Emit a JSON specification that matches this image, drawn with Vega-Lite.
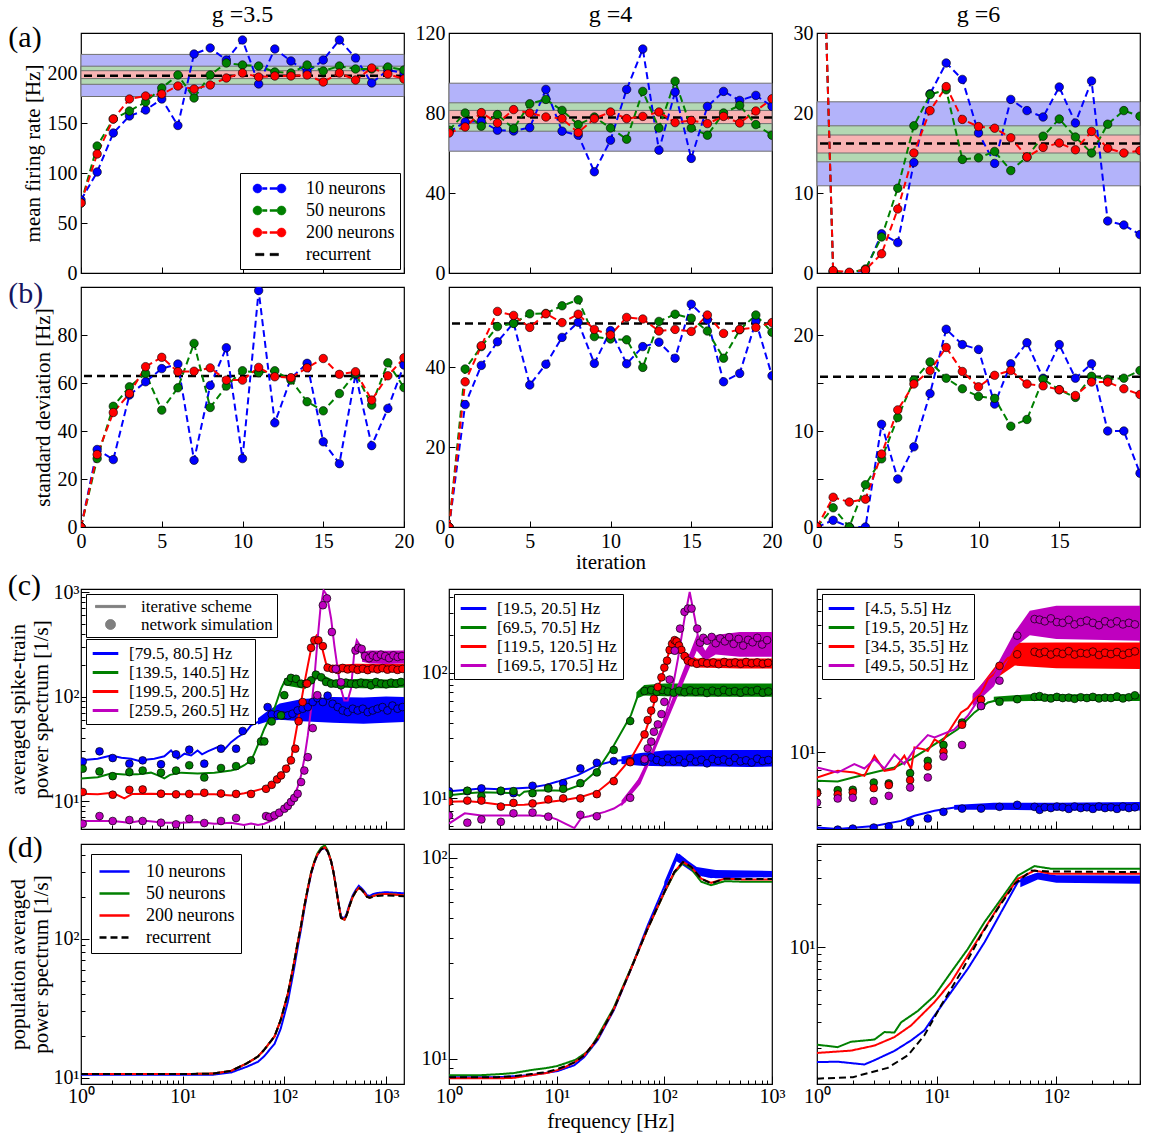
{
"$schema":"https://vega.github.io/schema/vega-lite/v6.json",
"background":"white",
"padding":{"left":6,"top":2,"right":6,"bottom":4},
"config":{
 "font":"Liberation Serif",
 "view":{"stroke":"black","strokeWidth":1.2},
 "axis":{"grid":false,"domain":false,"labelFont":"Liberation Serif","labelFontSize":20,"labelColor":"black","titleFont":"Liberation Serif","titleFontSize":21,"titleFontWeight":"normal","titleColor":"black","tickColor":"black","tickSize":-6,"labelPadding":10,"labelFlush":false,"labelOverlap":false},
 "legend":{"labelFont":"Liberation Serif","labelColor":"black","titleFont":"Liberation Serif","strokeColor":"black","fillColor":"white","cornerRadius":0},
 "title":{"font":"Liberation Serif","fontSize":24,"fontWeight":"normal","color":"black","offset":-4}
},
"datasets":{
"BA1":[{"b":"10","lo":176.5,"hi":218.6},{"b":"50","lo":188.7,"hi":206.8},{"b":"200","lo":194.4,"hi":202.3}],
"BA2":[{"b":"10","lo":60.9,"hi":94.9},{"b":"50","lo":70.9,"hi":85.1},{"b":"200","lo":74.7,"hi":81.3}],
"BA3":[{"b":"10","lo":10.9,"hi":21.4},{"b":"50","lo":13.9,"hi":18.4},{"b":"200","lo":15,"hi":17.25}],
"A1":[
{"s":"10","i":0,"v":73},{"s":"10","i":1,"v":101},{"s":"10","i":2,"v":140},{"s":"10","i":3,"v":157},{"s":"10","i":4,"v":163},{"s":"10","i":5,"v":174},{"s":"10","i":6,"v":147.5},{"s":"10","i":7,"v":219},{"s":"10","i":8,"v":225},{"s":"10","i":9,"v":213},{"s":"10","i":10,"v":233},{"s":"10","i":11,"v":189},{"s":"10","i":12,"v":224},{"s":"10","i":13,"v":212},{"s":"10","i":14,"v":201},{"s":"10","i":15,"v":213},{"s":"10","i":16,"v":233},{"s":"10","i":17,"v":215},{"s":"10","i":18,"v":190},{"s":"10","i":19,"v":203},{"s":"10","i":20,"v":200},
{"s":"50","i":0,"v":70},{"s":"50","i":1,"v":127},{"s":"50","i":2,"v":154},{"s":"50","i":3,"v":162},{"s":"50","i":4,"v":171},{"s":"50","i":5,"v":185},{"s":"50","i":6,"v":198},{"s":"50","i":7,"v":175},{"s":"50","i":8,"v":198},{"s":"50","i":9,"v":210},{"s":"50","i":10,"v":208},{"s":"50","i":11,"v":207},{"s":"50","i":12,"v":201},{"s":"50","i":13,"v":200},{"s":"50","i":14,"v":208},{"s":"50","i":15,"v":202},{"s":"50","i":16,"v":207},{"s":"50","i":17,"v":204},{"s":"50","i":18,"v":204},{"s":"50","i":19,"v":206},{"s":"50","i":20,"v":203},
{"s":"200","i":0,"v":70},{"s":"200","i":1,"v":119},{"s":"200","i":2,"v":154},{"s":"200","i":3,"v":174},{"s":"200","i":4,"v":177},{"s":"200","i":5,"v":179},{"s":"200","i":6,"v":187},{"s":"200","i":7,"v":184},{"s":"200","i":8,"v":188},{"s":"200","i":9,"v":195},{"s":"200","i":10,"v":200},{"s":"200","i":11,"v":196},{"s":"200","i":12,"v":197},{"s":"200","i":13,"v":197},{"s":"200","i":14,"v":198},{"s":"200","i":15,"v":191},{"s":"200","i":16,"v":200},{"s":"200","i":17,"v":193},{"s":"200","i":18,"v":205},{"s":"200","i":19,"v":199},{"s":"200","i":20,"v":194}],
"A2":[
{"s":"10","i":0,"v":70.5},{"s":"10","i":1,"v":75.5},{"s":"10","i":2,"v":75.9},{"s":"10","i":3,"v":71.4},{"s":"10","i":4,"v":71},{"s":"10","i":5,"v":72.7},{"s":"10","i":6,"v":91.8},{"s":"10","i":7,"v":70.9},{"s":"10","i":8,"v":68.9},{"s":"10","i":9,"v":50.6},{"s":"10","i":10,"v":66.4},{"s":"10","i":11,"v":91.8},{"s":"10","i":12,"v":112},{"s":"10","i":13,"v":61.4},{"s":"10","i":14,"v":90.5},{"s":"10","i":15,"v":57.3},{"s":"10","i":16,"v":83.3},{"s":"10","i":17,"v":90.8},{"s":"10","i":18,"v":86.3},{"s":"10","i":19,"v":88.8},{"s":"10","i":20,"v":83.3},
{"s":"50","i":0,"v":71.4},{"s":"50","i":1,"v":80},{"s":"50","i":2,"v":73.4},{"s":"50","i":3,"v":79.2},{"s":"50","i":4,"v":72.2},{"s":"50","i":5,"v":84.6},{"s":"50","i":6,"v":86.8},{"s":"50","i":7,"v":81.3},{"s":"50","i":8,"v":74.2},{"s":"50","i":9,"v":78},{"s":"50","i":10,"v":72.5},{"s":"50","i":11,"v":66.9},{"s":"50","i":12,"v":90.8},{"s":"50","i":13,"v":72.5},{"s":"50","i":14,"v":95.9},{"s":"50","i":15,"v":72.5},{"s":"50","i":16,"v":68.9},{"s":"50","i":17,"v":80},{"s":"50","i":18,"v":83.8},{"s":"50","i":19,"v":74.2},{"s":"50","i":20,"v":68.9},
{"s":"200","i":0,"v":70},{"s":"200","i":1,"v":73},{"s":"200","i":2,"v":80.2},{"s":"200","i":3,"v":75},{"s":"200","i":4,"v":81.7},{"s":"200","i":5,"v":80},{"s":"200","i":6,"v":78},{"s":"200","i":7,"v":77.2},{"s":"200","i":8,"v":70.2},{"s":"200","i":9,"v":77.2},{"s":"200","i":10,"v":80.5},{"s":"200","i":11,"v":77.2},{"s":"200","i":12,"v":78.3},{"s":"200","i":13,"v":80.5},{"s":"200","i":14,"v":75.2},{"s":"200","i":15,"v":76.3},{"s":"200","i":16,"v":74.7},{"s":"200","i":17,"v":78.3},{"s":"200","i":18,"v":75},{"s":"200","i":19,"v":81},{"s":"200","i":20,"v":87.1}],
"A3":[
{"s":"10","i":0,"v":70},{"s":"10","i":1,"v":0.2},{"s":"10","i":2,"v":0},{"s":"10","i":3,"v":0.3},{"s":"10","i":4,"v":4.9},{"s":"10","i":5,"v":3.8},{"s":"10","i":6,"v":13.8},{"s":"10","i":7,"v":22.4},{"s":"10","i":8,"v":26.25},{"s":"10","i":9,"v":24.2},{"s":"10","i":10,"v":17.5},{"s":"10","i":11,"v":13.7},{"s":"10","i":12,"v":21.7},{"s":"10","i":13,"v":20.3},{"s":"10","i":14,"v":19.5},{"s":"10","i":15,"v":23.25},{"s":"10","i":16,"v":18.75},{"s":"10","i":17,"v":24},{"s":"10","i":18,"v":6.5},{"s":"10","i":19,"v":6},{"s":"10","i":20,"v":4.8},
{"s":"50","i":0,"v":70},{"s":"50","i":1,"v":0.1},{"s":"50","i":2,"v":0},{"s":"50","i":3,"v":0.5},{"s":"50","i":4,"v":4.5},{"s":"50","i":5,"v":10.6},{"s":"50","i":6,"v":18.4},{"s":"50","i":7,"v":22.3},{"s":"50","i":8,"v":22.9},{"s":"50","i":9,"v":14.2},{"s":"50","i":10,"v":14.4},{"s":"50","i":11,"v":15.2},{"s":"50","i":12,"v":12.8},{"s":"50","i":13,"v":14.5},{"s":"50","i":14,"v":17.1},{"s":"50","i":15,"v":19.25},{"s":"50","i":16,"v":17},{"s":"50","i":17,"v":15},{"s":"50","i":18,"v":18.6},{"s":"50","i":19,"v":20.3},{"s":"50","i":20,"v":19.6},
{"s":"200","i":0,"v":70},{"s":"200","i":1,"v":0.3},{"s":"200","i":2,"v":0.1},{"s":"200","i":3,"v":0.4},{"s":"200","i":4,"v":2.4},{"s":"200","i":5,"v":8},{"s":"200","i":6,"v":15},{"s":"200","i":7,"v":20.3},{"s":"200","i":8,"v":23.3},{"s":"200","i":9,"v":19.2},{"s":"200","i":10,"v":18.3},{"s":"200","i":11,"v":18.1},{"s":"200","i":12,"v":16.9},{"s":"200","i":13,"v":14.5},{"s":"200","i":14,"v":15.7},{"s":"200","i":15,"v":16.25},{"s":"200","i":16,"v":15.4},{"s":"200","i":17,"v":17.7},{"s":"200","i":18,"v":15.6},{"s":"200","i":19,"v":15},{"s":"200","i":20,"v":15.3}],
"B1":[
{"s":"10","i":0,"v":0},{"s":"10","i":1,"v":32.3},{"s":"10","i":2,"v":28.1},{"s":"10","i":3,"v":55},{"s":"10","i":4,"v":60.5},{"s":"10","i":5,"v":66},{"s":"10","i":6,"v":67.9},{"s":"10","i":7,"v":27.8},{"s":"10","i":8,"v":59},{"s":"10","i":9,"v":74.7},{"s":"10","i":10,"v":28.5},{"s":"10","i":11,"v":98.5},{"s":"10","i":12,"v":43.4},{"s":"10","i":13,"v":62},{"s":"10","i":14,"v":68.2},{"s":"10","i":15,"v":35.5},{"s":"10","i":16,"v":26.4},{"s":"10","i":17,"v":63.6},{"s":"10","i":18,"v":33.9},{"s":"10","i":19,"v":49.4},{"s":"10","i":20,"v":67.5},
{"s":"50","i":0,"v":0},{"s":"50","i":1,"v":28.5},{"s":"50","i":2,"v":50.3},{"s":"50","i":3,"v":58.4},{"s":"50","i":4,"v":64},{"s":"50","i":5,"v":48.7},{"s":"50","i":6,"v":58},{"s":"50","i":7,"v":76.5},{"s":"50","i":8,"v":49.8},{"s":"50","i":9,"v":58.7},{"s":"50","i":10,"v":65.1},{"s":"50","i":11,"v":64.3},{"s":"50","i":12,"v":65.1},{"s":"50","i":13,"v":61.2},{"s":"50","i":14,"v":52.2},{"s":"50","i":15,"v":48.4},{"s":"50","i":16,"v":55.6},{"s":"50","i":17,"v":64},{"s":"50","i":18,"v":50.8},{"s":"50","i":19,"v":68.4},{"s":"50","i":20,"v":58.1},
{"s":"200","i":0,"v":0},{"s":"200","i":1,"v":30.2},{"s":"200","i":2,"v":47.7},{"s":"200","i":3,"v":55.6},{"s":"200","i":4,"v":66.8},{"s":"200","i":5,"v":70.7},{"s":"200","i":6,"v":64.7},{"s":"200","i":7,"v":64.9},{"s":"200","i":8,"v":66.3},{"s":"200","i":9,"v":61.2},{"s":"200","i":10,"v":61.2},{"s":"200","i":11,"v":66.5},{"s":"200","i":12,"v":62.6},{"s":"200","i":13,"v":62.2},{"s":"200","i":14,"v":66.3},{"s":"200","i":15,"v":70.2},{"s":"200","i":16,"v":63.6},{"s":"200","i":17,"v":64.7},{"s":"200","i":18,"v":52.9},{"s":"200","i":19,"v":63},{"s":"200","i":20,"v":70.5}],
"B2":[
{"s":"10","i":0,"v":0},{"s":"10","i":1,"v":30.6},{"s":"10","i":2,"v":40.4},{"s":"10","i":3,"v":46.3},{"s":"10","i":4,"v":51},{"s":"10","i":5,"v":35.5},{"s":"10","i":6,"v":40.7},{"s":"10","i":7,"v":47.4},{"s":"10","i":8,"v":51.2},{"s":"10","i":9,"v":40.9},{"s":"10","i":10,"v":49.1},{"s":"10","i":11,"v":40.8},{"s":"10","i":12,"v":45.1},{"s":"10","i":13,"v":46.2},{"s":"10","i":14,"v":42.2},{"s":"10","i":15,"v":55.7},{"s":"10","i":16,"v":51.8},{"s":"10","i":17,"v":36.3},{"s":"10","i":18,"v":38.4},{"s":"10","i":19,"v":51.4},{"s":"10","i":20,"v":37.8},
{"s":"50","i":0,"v":0},{"s":"50","i":1,"v":39.5},{"s":"50","i":2,"v":45.1},{"s":"50","i":3,"v":50.1},{"s":"50","i":4,"v":50.9},{"s":"50","i":5,"v":53.3},{"s":"50","i":6,"v":53.4},{"s":"50","i":7,"v":55.3},{"s":"50","i":8,"v":56.8},{"s":"50","i":9,"v":47.6},{"s":"50","i":10,"v":47},{"s":"50","i":11,"v":46.8},{"s":"50","i":12,"v":39.9},{"s":"50","i":13,"v":51.4},{"s":"50","i":14,"v":53.2},{"s":"50","i":15,"v":52.2},{"s":"50","i":16,"v":49},{"s":"50","i":17,"v":42.2},{"s":"50","i":18,"v":49.3},{"s":"50","i":19,"v":53},{"s":"50","i":20,"v":48.7},
{"s":"200","i":0,"v":0},{"s":"200","i":1,"v":36.3},{"s":"200","i":2,"v":45.3},{"s":"200","i":3,"v":53.9},{"s":"200","i":4,"v":52.9},{"s":"200","i":5,"v":49.9},{"s":"200","i":6,"v":53.3},{"s":"200","i":7,"v":51.1},{"s":"200","i":8,"v":53.2},{"s":"200","i":9,"v":49.4},{"s":"200","i":10,"v":48},{"s":"200","i":11,"v":52.4},{"s":"200","i":12,"v":52},{"s":"200","i":13,"v":49},{"s":"200","i":14,"v":49.4},{"s":"200","i":15,"v":48.9},{"s":"200","i":16,"v":53},{"s":"200","i":17,"v":48.4},{"s":"200","i":18,"v":49.4},{"s":"200","i":19,"v":49.9},{"s":"200","i":20,"v":51.1}],
"B3":[
{"s":"10","i":0,"v":0},{"s":"10","i":1,"v":0.7},{"s":"10","i":2,"v":0},{"s":"10","i":3,"v":0},{"s":"10","i":4,"v":10.7},{"s":"10","i":5,"v":5},{"s":"10","i":6,"v":8.35},{"s":"10","i":7,"v":13.9},{"s":"10","i":8,"v":20.6},{"s":"10","i":9,"v":19},{"s":"10","i":10,"v":18.5},{"s":"10","i":11,"v":12.8},{"s":"10","i":12,"v":17},{"s":"10","i":13,"v":19.2},{"s":"10","i":14,"v":15.5},{"s":"10","i":15,"v":19},{"s":"10","i":16,"v":15.5},{"s":"10","i":17,"v":17},{"s":"10","i":18,"v":10},{"s":"10","i":19,"v":10},{"s":"10","i":20,"v":5.6},
{"s":"50","i":0,"v":0},{"s":"50","i":1,"v":2},{"s":"50","i":2,"v":0},{"s":"50","i":3,"v":4.4},{"s":"50","i":4,"v":7.1},{"s":"50","i":5,"v":11.4},{"s":"50","i":6,"v":15.3},{"s":"50","i":7,"v":17.2},{"s":"50","i":8,"v":15.5},{"s":"50","i":9,"v":14.4},{"s":"50","i":10,"v":13.6},{"s":"50","i":11,"v":13.4},{"s":"50","i":12,"v":10.5},{"s":"50","i":13,"v":11.2},{"s":"50","i":14,"v":15.4},{"s":"50","i":15,"v":14.3},{"s":"50","i":16,"v":13.5},{"s":"50","i":17,"v":15.7},{"s":"50","i":18,"v":15.4},{"s":"50","i":19,"v":15.5},{"s":"50","i":20,"v":16.3},
{"s":"200","i":0,"v":0},{"s":"200","i":1,"v":3.1},{"s":"200","i":2,"v":2.6},{"s":"200","i":3,"v":2.9},{"s":"200","i":4,"v":7.6},{"s":"200","i":5,"v":12.2},{"s":"200","i":6,"v":14.9},{"s":"200","i":7,"v":16.3},{"s":"200","i":8,"v":18.7},{"s":"200","i":9,"v":16.2},{"s":"200","i":10,"v":14.6},{"s":"200","i":11,"v":15.8},{"s":"200","i":12,"v":16.3},{"s":"200","i":13,"v":14.9},{"s":"200","i":14,"v":14.7},{"s":"200","i":15,"v":14.3},{"s":"200","i":16,"v":13.7},{"s":"200","i":17,"v":15.1},{"s":"200","i":18,"v":15.1},{"s":"200","i":19,"v":14.4},{"s":"200","i":20,"v":13.8}],
"C1L":[
{"s":"b","f":1,"p":24.5},{"s":"b","f":1.46,"p":25.4},{"s":"b","f":1.97,"p":27.3},{"s":"b","f":2.5,"p":26},{"s":"b","f":3.1,"p":25.4},{"s":"b","f":3.89,"p":23.9},{"s":"b","f":4.5,"p":25},{"s":"b","f":5.26,"p":25.4},{"s":"b","f":6.6,"p":26.8},{"s":"b","f":7.68,"p":30.5},{"s":"b","f":8.94,"p":25.4},{"s":"b","f":10.4,"p":28.4},{"s":"b","f":12.1,"p":27.3},{"s":"b","f":14,"p":30.5},{"s":"b","f":15.5,"p":28},{"s":"b","f":17.6,"p":29.9},{"s":"b","f":22.1,"p":32.9},{"s":"b","f":26,"p":31.5},{"s":"b","f":29.9,"p":36.6},{"s":"b","f":34.8,"p":41},{"s":"b","f":41.9,"p":45.8},{"s":"b","f":47,"p":53},{"s":"b","f":54.7,"p":57},{"s":"b","f":63.5,"p":63.7},{"s":"b","f":73.8,"p":66},{"s":"b","f":86,"p":71},{"s":"b","f":99.8,"p":73.6},{"s":"b","f":150,"p":75},{"s":"b","f":250,"p":76},{"s":"b","f":500,"p":75},{"s":"b","f":1000,"p":76},{"s":"b","f":1500,"p":76},
{"s":"g","f":1,"p":16.4},{"s":"g","f":1.46,"p":16.9},{"s":"g","f":1.97,"p":18.3},{"s":"g","f":2.67,"p":17.9},{"s":"g","f":3.61,"p":18},{"s":"g","f":4.88,"p":18.7},{"s":"g","f":5.8,"p":17.5},{"s":"g","f":6.6,"p":16.5},{"s":"g","f":7.5,"p":17.8},{"s":"g","f":9.65,"p":18.7},{"s":"g","f":14,"p":18.3},{"s":"g","f":20.5,"p":18.7},{"s":"g","f":29.9,"p":19.6},{"s":"g","f":34.8,"p":20.4},{"s":"g","f":40.4,"p":22},{"s":"g","f":47,"p":24.5},{"s":"g","f":50.6,"p":28.4},{"s":"g","f":54.7,"p":34.1},{"s":"g","f":58.9,"p":41},{"s":"g","f":63.5,"p":49.2},{"s":"g","f":68.4,"p":57},{"s":"g","f":73.8,"p":66},{"s":"g","f":79.5,"p":76.5},{"s":"g","f":86,"p":95.3},{"s":"g","f":92.7,"p":119},{"s":"g","f":99.8,"p":138},{"s":"g","f":108,"p":148},{"s":"g","f":116,"p":153},{"s":"g","f":125,"p":143},{"s":"g","f":135,"p":133},{"s":"g","f":157,"p":128},{"s":"g","f":183,"p":143},{"s":"g","f":211,"p":159},{"s":"g","f":239,"p":153},{"s":"g","f":266,"p":138},{"s":"g","f":310,"p":133},{"s":"g","f":600,"p":133},{"s":"g","f":1500,"p":133},
{"s":"r","f":1,"p":11.75},{"s":"r","f":1.46,"p":11.6},{"s":"r","f":2.05,"p":12},{"s":"r","f":2.67,"p":10.6},{"s":"r","f":3.2,"p":11.7},{"s":"r","f":4.88,"p":11.75},{"s":"r","f":6.6,"p":11.7},{"s":"r","f":9.65,"p":11.6},{"s":"r","f":14,"p":11.6},{"s":"r","f":20.5,"p":11.6},{"s":"r","f":29.9,"p":11.3},{"s":"r","f":40.4,"p":11.9},{"s":"r","f":50.6,"p":12.5},{"s":"r","f":58.9,"p":13},{"s":"r","f":68.4,"p":13.6},{"s":"r","f":79.5,"p":15.2},{"s":"r","f":84.7,"p":16.1},{"s":"r","f":92.7,"p":17.6},{"s":"r","f":104,"p":20.4},{"s":"r","f":116,"p":24.5},{"s":"r","f":125,"p":36.7},{"s":"r","f":135,"p":56},{"s":"r","f":146,"p":88.6},{"s":"r","f":157,"p":133},{"s":"r","f":170,"p":199},{"s":"r","f":183,"p":286},{"s":"r","f":197,"p":357},{"s":"r","f":208,"p":385},{"s":"r","f":222,"p":357},{"s":"r","f":236,"p":286},{"s":"r","f":257,"p":206},{"s":"r","f":288,"p":184},{"s":"r","f":500,"p":184},{"s":"r","f":1500,"p":184},
{"s":"m","f":1,"p":6.44},{"s":"m","f":2.05,"p":6.44},{"s":"m","f":2.99,"p":6.2},{"s":"m","f":4.04,"p":6.5},{"s":"m","f":6.6,"p":6.2},{"s":"m","f":9.65,"p":6.2},{"s":"m","f":14,"p":6.3},{"s":"m","f":20.5,"p":6.07},{"s":"m","f":29.9,"p":6.2},{"s":"m","f":40,"p":5.9},{"s":"m","f":47,"p":6.1},{"s":"m","f":55,"p":5.9},{"s":"m","f":63.5,"p":6.07},{"s":"m","f":80,"p":6.68},{"s":"m","f":92.7,"p":7.56},{"s":"m","f":108,"p":8.96},{"s":"m","f":125,"p":11.3},{"s":"m","f":135,"p":13.6},{"s":"m","f":146,"p":17.6},{"s":"m","f":157,"p":25.4},{"s":"m","f":170,"p":42.5},{"s":"m","f":183,"p":76.5},{"s":"m","f":197,"p":148},{"s":"m","f":211,"p":333},{"s":"m","f":226,"p":694},{"s":"m","f":243,"p":1040},{"s":"m","f":262,"p":930},{"s":"m","f":288,"p":556},{"s":"m","f":310,"p":308},{"s":"m","f":334,"p":184},{"s":"m","f":360,"p":119},{"s":"m","f":388,"p":91.8},{"s":"m","f":419,"p":91.8},{"s":"m","f":452,"p":119},{"s":"m","f":487,"p":267},{"s":"m","f":515,"p":345},{"s":"m","f":540,"p":320},{"s":"m","f":580,"p":247},{"s":"m","f":660,"p":221},{"s":"m","f":800,"p":239},{"s":"m","f":1500,"p":239}],
"C1N":[
{"s":"b","f":55,"lo":54,"hi":62},{"s":"b","f":70,"lo":58,"hi":74},{"s":"b","f":90,"lo":60,"hi":86},{"s":"b","f":150,"lo":58,"hi":95},{"s":"b","f":300,"lo":56,"hi":99},{"s":"b","f":600,"lo":55,"hi":98},{"s":"b","f":1000,"lo":56,"hi":100},{"s":"b","f":1500,"lo":57,"hi":99},
{"s":"g","f":100,"lo":128,"hi":150},{"s":"g","f":160,"lo":118,"hi":140},{"s":"g","f":211,"lo":148,"hi":170},{"s":"g","f":300,"lo":122,"hi":145},{"s":"g","f":600,"lo":120,"hi":148},{"s":"g","f":1000,"lo":120,"hi":146},{"s":"g","f":1500,"lo":122,"hi":148},
{"s":"r","f":280,"lo":172,"hi":200},{"s":"r","f":500,"lo":170,"hi":206},{"s":"r","f":1000,"lo":172,"hi":205},{"s":"r","f":1500,"lo":171,"hi":206},
{"s":"m","f":580,"lo":215,"hi":270},{"s":"m","f":700,"lo":207,"hi":276},{"s":"m","f":1000,"lo":205,"hi":275},{"s":"m","f":1500,"lo":207,"hi":276}],
"C1D":[
{"s":"b","f":1.04,"p":23.9},{"s":"b","f":1.52,"p":29.9},{"s":"b","f":2.05,"p":25.8},{"s":"b","f":2.99,"p":22.8},{"s":"b","f":4.04,"p":24.5},{"s":"b","f":6.12,"p":22.5},{"s":"b","f":8.6,"p":28},{"s":"b","f":11.6,"p":31},{"s":"b","f":16.3,"p":22.8},{"s":"b","f":23.8,"p":31.7},{"s":"b","f":33.5,"p":31.7},{"s":"b","f":38.9,"p":46.8},{"s":"b","f":68.4,"p":79.3},{"s":"b","f":75,"p":67.5},{"s":"b","f":86,"p":67.5},{"s":"b","f":96,"p":66},{"s":"b","f":108,"p":66},{"s":"b","f":120,"p":68.5},{"s":"b","f":135,"p":73.6},{"s":"b","f":151,"p":76.5},{"s":"b","f":170,"p":79.3},{"s":"b","f":190,"p":88.6},{"s":"b","f":211,"p":96.8},{"s":"b","f":239,"p":88.6},{"s":"b","f":266,"p":102},{"s":"b","f":298,"p":85.3},{"s":"b","f":334,"p":79.3},{"s":"b","f":374,"p":73.6},{"s":"b","f":419,"p":71},{"s":"b","f":470,"p":76.5},{"s":"b","f":526,"p":73.6},{"s":"b","f":590,"p":76.5},{"s":"b","f":660,"p":71},{"s":"b","f":738,"p":73.6},{"s":"b","f":824,"p":76.5},{"s":"b","f":922,"p":79.3},{"s":"b","f":1032,"p":73.6},{"s":"b","f":1155,"p":82},{"s":"b","f":1296,"p":76.5},{"s":"b","f":1450,"p":79.3},
{"s":"g","f":1.04,"p":20.4},{"s":"g","f":1.52,"p":19.2},{"s":"g","f":2.05,"p":17.3},{"s":"g","f":2.99,"p":18.9},{"s":"g","f":4.04,"p":19.6},{"s":"g","f":6.12,"p":18.7},{"s":"g","f":8.6,"p":19.6},{"s":"g","f":11.6,"p":22},{"s":"g","f":16.3,"p":16.8},{"s":"g","f":23.8,"p":20.7},{"s":"g","f":33.5,"p":21.6},{"s":"g","f":47,"p":24.5},{"s":"g","f":58.9,"p":37.2},{"s":"g","f":63.5,"p":37.2},{"s":"g","f":75,"p":57.8},{"s":"g","f":92.7,"p":66},{"s":"g","f":99.8,"p":103},{"s":"g","f":108,"p":139},{"s":"g","f":116,"p":151},{"s":"g","f":130,"p":148},{"s":"g","f":146,"p":133},{"s":"g","f":163,"p":133},{"s":"g","f":183,"p":143},{"s":"g","f":204,"p":162},{"s":"g","f":230,"p":153},{"s":"g","f":257,"p":138},{"s":"g","f":288,"p":133},{"s":"g","f":323,"p":133},{"s":"g","f":360,"p":128},{"s":"g","f":403,"p":136},{"s":"g","f":452,"p":133},{"s":"g","f":506,"p":131},{"s":"g","f":566,"p":136},{"s":"g","f":634,"p":133},{"s":"g","f":711,"p":128},{"s":"g","f":797,"p":138},{"s":"g","f":893,"p":133},{"s":"g","f":1000,"p":131},{"s":"g","f":1120,"p":136},{"s":"g","f":1255,"p":133},{"s":"g","f":1400,"p":138},
{"s":"r","f":1.04,"p":12.2},{"s":"r","f":2.05,"p":11.5},{"s":"r","f":2.99,"p":12.8},{"s":"r","f":4.04,"p":12.9},{"s":"r","f":6.12,"p":11.75},{"s":"r","f":8.6,"p":11.6},{"s":"r","f":11.6,"p":11.7},{"s":"r","f":16.3,"p":12},{"s":"r","f":23.8,"p":11.8},{"s":"r","f":33.5,"p":11.7},{"s":"r","f":47,"p":11.7},{"s":"r","f":66,"p":13.1},{"s":"r","f":75,"p":14.3},{"s":"r","f":84.7,"p":16.1},{"s":"r","f":92.7,"p":17.6},{"s":"r","f":104,"p":20.4},{"s":"r","f":116,"p":24.5},{"s":"r","f":128,"p":31.7},{"s":"r","f":138,"p":58},{"s":"r","f":151,"p":88.6},{"s":"r","f":167,"p":133},{"s":"r","f":183,"p":293},{"s":"r","f":197,"p":345},{"s":"r","f":216,"p":345},{"s":"r","f":239,"p":304},{"s":"r","f":266,"p":189},{"s":"r","f":298,"p":184},{"s":"r","f":334,"p":180},{"s":"r","f":374,"p":188},{"s":"r","f":419,"p":182},{"s":"r","f":470,"p":186},{"s":"r","f":526,"p":180},{"s":"r","f":590,"p":185},{"s":"r","f":660,"p":179},{"s":"r","f":738,"p":186},{"s":"r","f":824,"p":182},{"s":"r","f":922,"p":187},{"s":"r","f":1032,"p":181},{"s":"r","f":1155,"p":185},{"s":"r","f":1296,"p":180},{"s":"r","f":1450,"p":184},
{"s":"m","f":1.04,"p":6.07},{"s":"m","f":1.52,"p":7.18},{"s":"m","f":2.05,"p":6.44},{"s":"m","f":2.99,"p":6.58},{"s":"m","f":4.04,"p":6.44},{"s":"m","f":6.12,"p":6.2},{"s":"m","f":8.6,"p":5.98},{"s":"m","f":11.6,"p":6.77},{"s":"m","f":16.3,"p":6.16},{"s":"m","f":23.8,"p":6.44},{"s":"m","f":33.5,"p":6.88},{"s":"m","f":66,"p":7.18},{"s":"m","f":71,"p":7.03},{"s":"m","f":80,"p":7.3},{"s":"m","f":89,"p":7.74},{"s":"m","f":100,"p":8.45},{"s":"m","f":108,"p":8.96},{"s":"m","f":116,"p":9.8},{"s":"m","f":125,"p":10.7},{"s":"m","f":135,"p":11.75},{"s":"m","f":146,"p":15.2},{"s":"m","f":157,"p":19.6},{"s":"m","f":170,"p":26.3},{"s":"m","f":190,"p":49.9},{"s":"m","f":211,"p":103},{"s":"m","f":239,"p":748},{"s":"m","f":262,"p":870},{"s":"m","f":293,"p":415},{"s":"m","f":320,"p":184},{"s":"m","f":360,"p":137},{"s":"m","f":500,"p":276},{"s":"m","f":533,"p":293},{"s":"m","f":575,"p":286},{"s":"m","f":620,"p":244},{"s":"m","f":680,"p":233},{"s":"m","f":740,"p":248},{"s":"m","f":810,"p":239},{"s":"m","f":890,"p":252},{"s":"m","f":980,"p":244},{"s":"m","f":1070,"p":233},{"s":"m","f":1180,"p":248},{"s":"m","f":1300,"p":239},{"s":"m","f":1430,"p":244}],
"C2L":[
{"s":"b","f":1,"p":11.4},{"s":"b","f":1.48,"p":11.7},{"s":"b","f":2,"p":12},{"s":"b","f":3,"p":11.8},{"s":"b","f":4,"p":12},{"s":"b","f":5.8,"p":12.2},{"s":"b","f":8,"p":12.8},{"s":"b","f":10.2,"p":13.6},{"s":"b","f":15.7,"p":15.3},{"s":"b","f":24,"p":18.4},{"s":"b","f":34,"p":19.8},{"s":"b","f":48,"p":20.5},{"s":"b","f":70,"p":20.8},{"s":"b","f":150,"p":20.8},{"s":"b","f":300,"p":20.6},{"s":"b","f":600,"p":21},{"s":"b","f":1000,"p":20.8},
{"s":"g","f":1,"p":10.6},{"s":"g","f":1.5,"p":11},{"s":"g","f":2,"p":11.2},{"s":"g","f":3,"p":11.1},{"s":"g","f":4,"p":11},{"s":"g","f":4.5,"p":10.5},{"s":"g","f":5,"p":11.3},{"s":"g","f":6,"p":11.5},{"s":"g","f":8,"p":11.6},{"s":"g","f":11.8,"p":11.5},{"s":"g","f":16.6,"p":12.8},{"s":"g","f":24,"p":16.8},{"s":"g","f":34,"p":26.5},{"s":"g","f":49,"p":46},{"s":"g","f":57,"p":66.4},{"s":"g","f":65,"p":72.9},{"s":"g","f":75,"p":71.6},{"s":"g","f":150,"p":71.6},{"s":"g","f":500,"p":71},{"s":"g","f":1000,"p":71},
{"s":"r","f":1,"p":9.4},{"s":"r","f":1.5,"p":9.5},{"s":"r","f":2,"p":9.3},{"s":"r","f":3,"p":8.9},{"s":"r","f":4,"p":8.85},{"s":"r","f":5,"p":8.9},{"s":"r","f":6,"p":9},{"s":"r","f":8,"p":9.3},{"s":"r","f":11.8,"p":9.7},{"s":"r","f":16.6,"p":10.2},{"s":"r","f":24,"p":11.3},{"s":"r","f":34,"p":14.4},{"s":"r","f":49,"p":20.8},{"s":"r","f":65,"p":31.9},{"s":"r","f":75,"p":46},{"s":"r","f":87,"p":75},{"s":"r","f":100,"p":108},{"s":"r","f":112,"p":152},{"s":"r","f":124,"p":182},{"s":"r","f":134,"p":178},{"s":"r","f":144,"p":152},{"s":"r","f":160,"p":130},{"s":"r","f":200,"p":120},{"s":"r","f":500,"p":119},{"s":"r","f":1000,"p":119},
{"s":"m","f":1,"p":6.3},{"s":"m","f":1.4,"p":7.6},{"s":"m","f":2,"p":7.3},{"s":"m","f":3,"p":7.3},{"s":"m","f":5,"p":7.3},{"s":"m","f":7,"p":7.3},{"s":"m","f":8.4,"p":7.15},{"s":"m","f":10,"p":6.8},{"s":"m","f":12,"p":6.3},{"s":"m","f":14.6,"p":5.8},{"s":"m","f":17,"p":7},{"s":"m","f":20,"p":7.2},{"s":"m","f":28,"p":7.8},{"s":"m","f":34,"p":8.3},{"s":"m","f":43,"p":9.4},{"s":"m","f":57,"p":13.6},{"s":"m","f":75,"p":22.1},{"s":"m","f":94,"p":36.1},{"s":"m","f":116,"p":66.5},{"s":"m","f":134,"p":130},{"s":"m","f":154,"p":271},{"s":"m","f":172,"p":440},{"s":"m","f":192,"p":271},{"s":"m","f":212,"p":166},{"s":"m","f":237,"p":134},{"s":"m","f":273,"p":150},{"s":"m","f":339,"p":176},{"s":"m","f":500,"p":172},{"s":"m","f":1000,"p":170}],
"C2N":[
{"s":"b","f":40,"lo":18.8,"hi":21.5},{"s":"b","f":60,"lo":18.2,"hi":23},{"s":"b","f":100,"lo":18,"hi":24},{"s":"b","f":300,"lo":17.9,"hi":24.3},{"s":"b","f":600,"lo":17.8,"hi":24.3},{"s":"b","f":1000,"lo":17.9,"hi":24.3},
{"s":"g","f":55,"lo":62,"hi":70},{"s":"g","f":65,"lo":66,"hi":80},{"s":"g","f":100,"lo":65,"hi":82},{"s":"g","f":300,"lo":64.5,"hi":82},{"s":"g","f":1000,"lo":64.5,"hi":82},
{"s":"r","f":150,"lo":125,"hi":150},{"s":"r","f":200,"lo":110,"hi":130},{"s":"r","f":500,"lo":108,"hi":130},{"s":"r","f":1000,"lo":108,"hi":130},
{"s":"m","f":40,"lo":8.6,"hi":9.6},{"s":"m","f":60,"lo":13,"hi":15},{"s":"m","f":80,"lo":23,"hi":26},{"s":"m","f":200,"lo":150,"hi":200},{"s":"m","f":240,"lo":125,"hi":150},{"s":"m","f":300,"lo":140,"hi":200},{"s":"m","f":500,"lo":134,"hi":211},{"s":"m","f":1000,"lo":134,"hi":211}],
"C2D":[
{"s":"b","f":1,"p":11.4},{"s":"b","f":1.48,"p":11.4},{"s":"b","f":2,"p":12},{"s":"b","f":3.03,"p":11.4},{"s":"b","f":3.97,"p":11},{"s":"b","f":5.97,"p":12.6},{"s":"b","f":8.36,"p":12.2},{"s":"b","f":11.5,"p":13.2},{"s":"b","f":16.6,"p":17.3},{"s":"b","f":23.6,"p":19.2},{"s":"b","f":33.9,"p":19.8},{"s":"b","f":48.2,"p":19.8},{"s":"b","f":65.5,"p":19.6},{"s":"b","f":75.5,"p":21.2},{"s":"b","f":85,"p":20.2},{"s":"b","f":96,"p":19.4},{"s":"b","f":108,"p":20.8},{"s":"b","f":122,"p":19.8},{"s":"b","f":137,"p":20.5},{"s":"b","f":154,"p":19.2},{"s":"b","f":174,"p":20.9},{"s":"b","f":196,"p":19.6},{"s":"b","f":221,"p":20.3},{"s":"b","f":249,"p":19},{"s":"b","f":280,"p":20.6},{"s":"b","f":316,"p":19.9},{"s":"b","f":356,"p":20.4},{"s":"b","f":401,"p":19.5},{"s":"b","f":452,"p":21},{"s":"b","f":510,"p":19.7},{"s":"b","f":574,"p":20.1},{"s":"b","f":647,"p":19.3},{"s":"b","f":729,"p":20.7},{"s":"b","f":821,"p":19.8},{"s":"b","f":925,"p":20.2},
{"s":"g","f":1,"p":10.8},{"s":"g","f":1.48,"p":11.5},{"s":"g","f":2,"p":10.4},{"s":"g","f":3.03,"p":11.5},{"s":"g","f":3.97,"p":11.4},{"s":"g","f":5.97,"p":11},{"s":"g","f":8.36,"p":12},{"s":"g","f":11.5,"p":11.9},{"s":"g","f":16.6,"p":13.2},{"s":"g","f":23.6,"p":16.1},{"s":"g","f":33.9,"p":24.3},{"s":"g","f":48.2,"p":41.3},{"s":"g","f":65.5,"p":71.6},{"s":"g","f":75.5,"p":72.9},{"s":"g","f":85,"p":70.5},{"s":"g","f":96,"p":73},{"s":"g","f":108,"p":71},{"s":"g","f":122,"p":69.5},{"s":"g","f":137,"p":72},{"s":"g","f":154,"p":70},{"s":"g","f":174,"p":72.5},{"s":"g","f":196,"p":70.5},{"s":"g","f":221,"p":71.5},{"s":"g","f":249,"p":69},{"s":"g","f":280,"p":72},{"s":"g","f":316,"p":70},{"s":"g","f":356,"p":73},{"s":"g","f":401,"p":70.5},{"s":"g","f":452,"p":71.5},{"s":"g","f":510,"p":69.5},{"s":"g","f":574,"p":72},{"s":"g","f":647,"p":71},{"s":"g","f":729,"p":73},{"s":"g","f":821,"p":69.5},{"s":"g","f":925,"p":71},
{"s":"r","f":1,"p":9.4},{"s":"r","f":1.48,"p":9.6},{"s":"r","f":2,"p":9.6},{"s":"r","f":3.03,"p":8.6},{"s":"r","f":3.97,"p":9.2},{"s":"r","f":5.97,"p":9.1},{"s":"r","f":8.36,"p":9.8},{"s":"r","f":11.5,"p":10},{"s":"r","f":16.6,"p":10},{"s":"r","f":23.6,"p":10.8},{"s":"r","f":33.9,"p":13.7},{"s":"r","f":48.2,"p":19.4},{"s":"r","f":65.5,"p":32.3},{"s":"r","f":70,"p":42},{"s":"r","f":75.5,"p":50},{"s":"r","f":80,"p":62},{"s":"r","f":87,"p":77},{"s":"r","f":94,"p":92},{"s":"r","f":100,"p":110},{"s":"r","f":106,"p":125},{"s":"r","f":112,"p":152},{"s":"r","f":118,"p":170},{"s":"r","f":124.6,"p":182},{"s":"r","f":130,"p":178},{"s":"r","f":137,"p":165},{"s":"r","f":144,"p":152},{"s":"r","f":154,"p":136},{"s":"r","f":165,"p":125},{"s":"r","f":180,"p":121},{"s":"r","f":200,"p":118},{"s":"r","f":225,"p":122},{"s":"r","f":250,"p":119},{"s":"r","f":285,"p":121},{"s":"r","f":320,"p":117},{"s":"r","f":360,"p":122},{"s":"r","f":405,"p":119},{"s":"r","f":455,"p":121},{"s":"r","f":512,"p":118},{"s":"r","f":575,"p":122},{"s":"r","f":647,"p":119},{"s":"r","f":728,"p":121},{"s":"r","f":820,"p":118},{"s":"r","f":920,"p":120},
{"s":"m","f":1,"p":7.3},{"s":"m","f":1.48,"p":6.4},{"s":"m","f":2,"p":6.8},{"s":"m","f":3.03,"p":6.5},{"s":"m","f":3.97,"p":7.6},{"s":"m","f":5.97,"p":7.7},{"s":"m","f":8.36,"p":7.15},{"s":"m","f":16.6,"p":7.4},{"s":"m","f":23.6,"p":7.2},{"s":"m","f":48.2,"p":10.1},{"s":"m","f":65.5,"p":20.5},{"s":"m","f":70,"p":25},{"s":"m","f":75.5,"p":28.3},{"s":"m","f":80,"p":33.9},{"s":"m","f":87,"p":38.8},{"s":"m","f":94,"p":46.9},{"s":"m","f":100,"p":58.7},{"s":"m","f":112,"p":88.3},{"s":"m","f":125,"p":150},{"s":"m","f":140,"p":225},{"s":"m","f":154,"p":306},{"s":"m","f":166,"p":325},{"s":"m","f":179,"p":325},{"s":"m","f":202,"p":225},{"s":"m","f":215,"p":174},{"s":"m","f":230,"p":190},{"s":"m","f":250,"p":180},{"s":"m","f":275,"p":193},{"s":"m","f":300,"p":172},{"s":"m","f":330,"p":188},{"s":"m","f":365,"p":178},{"s":"m","f":400,"p":192},{"s":"m","f":440,"p":170},{"s":"m","f":490,"p":186},{"s":"m","f":540,"p":165},{"s":"m","f":600,"p":183},{"s":"m","f":660,"p":175},{"s":"m","f":730,"p":190},{"s":"m","f":810,"p":168},{"s":"m","f":900,"p":182}],
"C3L":[
{"s":"b","f":1,"p":3.87},{"s":"b","f":1.49,"p":3.8},{"s":"b","f":3.02,"p":3.95},{"s":"b","f":5.04,"p":4.21},{"s":"b","f":6.52,"p":4.49},{"s":"b","f":9.6,"p":4.79},{"s":"b","f":14.1,"p":4.99},{"s":"b","f":20.7,"p":5.09},{"s":"b","f":50,"p":5.05},{"s":"b","f":500,"p":5.05},
{"s":"g","f":1,"p":6.99},{"s":"g","f":1.49,"p":6.93},{"s":"g","f":2,"p":7.29},{"s":"g","f":2.98,"p":7.76},{"s":"g","f":4.43,"p":8.27},{"s":"g","f":6.12,"p":9.19},{"s":"g","f":7.9,"p":10.2},{"s":"g","f":10.2,"p":11.35},{"s":"g","f":15,"p":13.4},{"s":"g","f":20.7,"p":16.6},{"s":"g","f":26.8,"p":18.8},{"s":"g","f":34.6,"p":19.6},{"s":"g","f":50,"p":20},{"s":"g","f":500,"p":20},
{"s":"r","f":1,"p":7.29},{"s":"r","f":1.49,"p":7.93},{"s":"r","f":2.05,"p":7.76},{"s":"r","f":2.49,"p":7.44},{"s":"r","f":3.02,"p":9.6},{"s":"r","f":3.66,"p":7.93},{"s":"r","f":4.43,"p":8.1},{"s":"r","f":5.37,"p":9.6},{"s":"r","f":6.12,"p":8.1},{"s":"r","f":6.52,"p":10.65},{"s":"r","f":7.9,"p":10.4},{"s":"r","f":8.43,"p":10.2},{"s":"r","f":9.6,"p":11.8},{"s":"r","f":10.9,"p":11.2},{"s":"r","f":14.1,"p":14.6},{"s":"r","f":16,"p":16.6},{"s":"r","f":18.2,"p":17.5},{"s":"r","f":20.7,"p":19.6},{"s":"r","f":23.5,"p":21},{"s":"r","f":26.8,"p":25.3},{"s":"r","f":30.4,"p":27},{"s":"r","f":34.6,"p":29.9},{"s":"r","f":39.3,"p":33},{"s":"r","f":47.7,"p":34.6},{"s":"r","f":500,"p":34.6},
{"s":"m","f":1,"p":8.27},{"s":"m","f":1.49,"p":7.76},{"s":"m","f":2.05,"p":8.63},{"s":"m","f":2.49,"p":8.17},{"s":"m","f":3.02,"p":9.19},{"s":"m","f":3.66,"p":8.17},{"s":"m","f":4.43,"p":9.75},{"s":"m","f":5.37,"p":8.63},{"s":"m","f":6.52,"p":10.4},{"s":"m","f":8.43,"p":12.45},{"s":"m","f":9.6,"p":12.1},{"s":"m","f":14.1,"p":13.4},{"s":"m","f":18.2,"p":15.9},{"s":"m","f":23.5,"p":20.5},{"s":"m","f":30.4,"p":26.3},{"s":"m","f":39.3,"p":35.5},{"s":"m","f":50.9,"p":45.8},{"s":"m","f":65.8,"p":51.8},{"s":"m","f":500,"p":50}],
"C3N":[
{"s":"b","f":14,"lo":4.85,"hi":5.15},{"s":"b","f":30,"lo":4.85,"hi":5.3},{"s":"b","f":100,"lo":4.8,"hi":5.3},{"s":"b","f":500,"lo":4.8,"hi":5.35},
{"s":"g","f":30,"lo":19,"hi":20.2},{"s":"g","f":60,"lo":19.2,"hi":20.9},{"s":"g","f":500,"lo":19.2,"hi":20.9},
{"s":"r","f":20,"lo":18.5,"hi":20.5},{"s":"r","f":30,"lo":25,"hi":29},{"s":"r","f":45,"lo":30,"hi":40},{"s":"r","f":100,"lo":29,"hi":40.2},{"s":"r","f":500,"lo":28.7,"hi":40.2},
{"s":"m","f":20,"lo":18,"hi":21},{"s":"m","f":30,"lo":23,"hi":28},{"s":"m","f":45,"lo":38,"hi":46},{"s":"m","f":60,"lo":44,"hi":60},{"s":"m","f":100,"lo":42,"hi":64},{"s":"m","f":500,"lo":41,"hi":64}],
"C3D":[
{"s":"b","f":1.49,"p":3.77},{"s":"b","f":1.99,"p":3.82},{"s":"b","f":2.98,"p":3.87},{"s":"b","f":3.98,"p":3.92},{"s":"b","f":6,"p":4.13},{"s":"b","f":8.43,"p":4.34},{"s":"b","f":11.4,"p":4.72},{"s":"b","f":16.3,"p":4.92},{"s":"b","f":23.5,"p":4.92},{"s":"b","f":33.5,"p":5.03},{"s":"b","f":47.1,"p":5.16},{"s":"b","f":65.8,"p":5.03},{"s":"b","f":72.5,"p":4.84},{"s":"b","f":80,"p":5},{"s":"b","f":90,"p":4.95},{"s":"b","f":101,"p":5.05},{"s":"b","f":113,"p":5},{"s":"b","f":127,"p":4.9},{"s":"b","f":142,"p":5.05},{"s":"b","f":160,"p":4.95},{"s":"b","f":180,"p":5},{"s":"b","f":202,"p":4.9},{"s":"b","f":227,"p":5.05},{"s":"b","f":255,"p":4.95},{"s":"b","f":286,"p":5},{"s":"b","f":321,"p":4.9},{"s":"b","f":360,"p":5.05},{"s":"b","f":404,"p":4.95},{"s":"b","f":453,"p":5},
{"s":"g","f":1,"p":6.08},{"s":"g","f":1.49,"p":6.21},{"s":"g","f":1.99,"p":6.24},{"s":"g","f":2.98,"p":6.84},{"s":"g","f":3.98,"p":6.76},{"s":"g","f":6,"p":7.7},{"s":"g","f":8.43,"p":9},{"s":"g","f":11.4,"p":11},{"s":"g","f":16.3,"p":14.6},{"s":"g","f":23.5,"p":18},{"s":"g","f":33.5,"p":19},{"s":"g","f":47.1,"p":19.6},{"s":"g","f":65.8,"p":20.2},{"s":"g","f":72.5,"p":20.4},{"s":"g","f":80,"p":20},{"s":"g","f":90,"p":19.8},{"s":"g","f":101,"p":20.2},{"s":"g","f":113,"p":19.9},{"s":"g","f":127,"p":20},{"s":"g","f":142,"p":19.7},{"s":"g","f":160,"p":20.1},{"s":"g","f":180,"p":19.9},{"s":"g","f":202,"p":20.2},{"s":"g","f":227,"p":19.8},{"s":"g","f":255,"p":20},{"s":"g","f":286,"p":19.9},{"s":"g","f":321,"p":20.3},{"s":"g","f":360,"p":19.8},{"s":"g","f":404,"p":20.1},{"s":"g","f":453,"p":20.6},
{"s":"r","f":1,"p":5.98},{"s":"r","f":1.49,"p":5.88},{"s":"r","f":1.99,"p":6.03},{"s":"r","f":2.98,"p":6.37},{"s":"r","f":3.98,"p":6.62},{"s":"r","f":6,"p":7.05},{"s":"r","f":8.43,"p":8.38},{"s":"r","f":11.4,"p":10.1},{"s":"r","f":16.3,"p":14.2},{"s":"r","f":23.5,"p":19.5},{"s":"r","f":33.5,"p":29.9},{"s":"r","f":47.1,"p":34.6},{"s":"r","f":65.8,"p":35.7},{"s":"r","f":72.5,"p":35},{"s":"r","f":80,"p":35.7},{"s":"r","f":90,"p":34.5},{"s":"r","f":101,"p":35.5},{"s":"r","f":113,"p":34.8},{"s":"r","f":127,"p":36},{"s":"r","f":142,"p":34.5},{"s":"r","f":160,"p":35.2},{"s":"r","f":180,"p":34.9},{"s":"r","f":202,"p":35.8},{"s":"r","f":227,"p":34.3},{"s":"r","f":255,"p":35.3},{"s":"r","f":286,"p":34.7},{"s":"r","f":321,"p":35.6},{"s":"r","f":360,"p":34.4},{"s":"r","f":404,"p":35.2},{"s":"r","f":453,"p":35.9},
{"s":"m","f":1,"p":5.31},{"s":"m","f":1.49,"p":5.59},{"s":"m","f":1.99,"p":5.64},{"s":"m","f":2.98,"p":5.42},{"s":"m","f":3.98,"p":5.78},{"s":"m","f":6,"p":6.42},{"s":"m","f":8.43,"p":7.29},{"s":"m","f":11.4,"p":9.5},{"s":"m","f":16.3,"p":11},{"s":"m","f":23.5,"p":18},{"s":"m","f":33.5,"p":24.8},{"s":"m","f":47.1,"p":43.8},{"s":"m","f":65.8,"p":54},{"s":"m","f":72.5,"p":53.6},{"s":"m","f":80,"p":52.5},{"s":"m","f":90,"p":54.5},{"s":"m","f":101,"p":52},{"s":"m","f":113,"p":51.5},{"s":"m","f":127,"p":53.5},{"s":"m","f":142,"p":50.5},{"s":"m","f":160,"p":52},{"s":"m","f":180,"p":53},{"s":"m","f":202,"p":51.5},{"s":"m","f":227,"p":50},{"s":"m","f":255,"p":52.5},{"s":"m","f":286,"p":51},{"s":"m","f":321,"p":52.5},{"s":"m","f":360,"p":50.5},{"s":"m","f":404,"p":51.5},{"s":"m","f":453,"p":50.5}],
"D1":[
{"s":"10","f":1,"p":10.5},{"s":"10","f":10,"p":10.5},{"s":"10","f":20,"p":10.5},{"s":"10","f":30,"p":10.9},{"s":"10","f":43,"p":12},{"s":"10","f":55,"p":13},{"s":"10","f":63,"p":14.2},{"s":"10","f":80,"p":17.5},{"s":"10","f":92,"p":22.5},{"s":"10","f":108,"p":35},{"s":"10","f":122,"p":56},{"s":"10","f":135,"p":86},{"s":"10","f":146,"p":118},{"s":"10","f":157,"p":163},{"s":"10","f":170,"p":225},{"s":"10","f":183,"p":292},{"s":"10","f":197,"p":352},{"s":"10","f":211,"p":400},{"s":"10","f":230,"p":438},{"s":"10","f":250,"p":450},{"s":"10","f":268,"p":420},{"s":"10","f":288,"p":362},{"s":"10","f":304,"p":302},{"s":"10","f":320,"p":242},{"s":"10","f":340,"p":183},{"s":"10","f":360,"p":144},{"s":"10","f":390,"p":140},{"s":"10","f":410,"p":152},{"s":"10","f":435,"p":175},{"s":"10","f":470,"p":205},{"s":"10","f":505,"p":225},{"s":"10","f":540,"p":240},{"s":"10","f":575,"p":230},{"s":"10","f":610,"p":219},{"s":"10","f":650,"p":205},{"s":"10","f":690,"p":203},{"s":"10","f":750,"p":210},{"s":"10","f":820,"p":213},{"s":"10","f":1000,"p":216},{"s":"10","f":1500,"p":212},
{"s":"50","f":1,"p":10.6},{"s":"50","f":10,"p":10.6},{"s":"50","f":20,"p":10.7},{"s":"50","f":30,"p":11.2},{"s":"50","f":43,"p":12.7},{"s":"50","f":55,"p":14.2},{"s":"50","f":63,"p":15.8},{"s":"50","f":80,"p":19.8},{"s":"50","f":92,"p":26},{"s":"50","f":108,"p":40},{"s":"50","f":122,"p":62},{"s":"50","f":135,"p":93},{"s":"50","f":146,"p":125},{"s":"50","f":157,"p":171},{"s":"50","f":170,"p":232},{"s":"50","f":183,"p":300},{"s":"50","f":197,"p":360},{"s":"50","f":211,"p":410},{"s":"50","f":230,"p":452},{"s":"50","f":250,"p":468},{"s":"50","f":268,"p":428},{"s":"50","f":288,"p":362},{"s":"50","f":304,"p":300},{"s":"50","f":320,"p":239},{"s":"50","f":340,"p":180},{"s":"50","f":360,"p":141},{"s":"50","f":390,"p":137},{"s":"50","f":410,"p":148},{"s":"50","f":435,"p":171},{"s":"50","f":470,"p":200},{"s":"50","f":505,"p":219},{"s":"50","f":540,"p":232},{"s":"50","f":575,"p":225},{"s":"50","f":610,"p":214},{"s":"50","f":650,"p":200},{"s":"50","f":690,"p":197},{"s":"50","f":750,"p":203},{"s":"50","f":820,"p":207},{"s":"50","f":1000,"p":210},{"s":"50","f":1500,"p":205},
{"s":"200","f":1,"p":10.6},{"s":"200","f":10,"p":10.6},{"s":"200","f":20,"p":10.7},{"s":"200","f":30,"p":11.2},{"s":"200","f":43,"p":12.7},{"s":"200","f":55,"p":14.2},{"s":"200","f":63,"p":15.8},{"s":"200","f":80,"p":19.8},{"s":"200","f":92,"p":26},{"s":"200","f":108,"p":40},{"s":"200","f":122,"p":62},{"s":"200","f":135,"p":93},{"s":"200","f":146,"p":125},{"s":"200","f":157,"p":171},{"s":"200","f":170,"p":230},{"s":"200","f":183,"p":297},{"s":"200","f":197,"p":355},{"s":"200","f":211,"p":403},{"s":"200","f":230,"p":440},{"s":"200","f":250,"p":455},{"s":"200","f":268,"p":420},{"s":"200","f":288,"p":360},{"s":"200","f":304,"p":300},{"s":"200","f":320,"p":239},{"s":"200","f":340,"p":180},{"s":"200","f":360,"p":141},{"s":"200","f":390,"p":137},{"s":"200","f":410,"p":148},{"s":"200","f":435,"p":171},{"s":"200","f":470,"p":200},{"s":"200","f":505,"p":219},{"s":"200","f":540,"p":232},{"s":"200","f":575,"p":225},{"s":"200","f":610,"p":214},{"s":"200","f":650,"p":200},{"s":"200","f":690,"p":197},{"s":"200","f":750,"p":203},{"s":"200","f":820,"p":207},{"s":"200","f":1000,"p":210},{"s":"200","f":1500,"p":205},
{"s":"rec","f":1,"p":10.6},{"s":"rec","f":10,"p":10.6},{"s":"rec","f":20,"p":10.7},{"s":"rec","f":30,"p":11.2},{"s":"rec","f":43,"p":12.7},{"s":"rec","f":55,"p":14.2},{"s":"rec","f":63,"p":15.8},{"s":"rec","f":80,"p":19.8},{"s":"rec","f":92,"p":26},{"s":"rec","f":108,"p":40},{"s":"rec","f":122,"p":62},{"s":"rec","f":135,"p":93},{"s":"rec","f":146,"p":125},{"s":"rec","f":157,"p":171},{"s":"rec","f":170,"p":230},{"s":"rec","f":183,"p":297},{"s":"rec","f":197,"p":355},{"s":"rec","f":211,"p":403},{"s":"rec","f":230,"p":440},{"s":"rec","f":250,"p":455},{"s":"rec","f":268,"p":420},{"s":"rec","f":288,"p":360},{"s":"rec","f":304,"p":300},{"s":"rec","f":320,"p":239},{"s":"rec","f":340,"p":180},{"s":"rec","f":360,"p":141},{"s":"rec","f":390,"p":137},{"s":"rec","f":410,"p":148},{"s":"rec","f":435,"p":171},{"s":"rec","f":470,"p":200},{"s":"rec","f":505,"p":219},{"s":"rec","f":540,"p":232},{"s":"rec","f":575,"p":225},{"s":"rec","f":610,"p":214},{"s":"rec","f":650,"p":200},{"s":"rec","f":690,"p":197},{"s":"rec","f":750,"p":200},{"s":"rec","f":820,"p":203},{"s":"rec","f":1000,"p":205},{"s":"rec","f":1500,"p":202}],
"D2":[
{"s":"10","f":1,"p":8.1},{"s":"10","f":2.8,"p":8.1},{"s":"10","f":5.8,"p":8.3},{"s":"10","f":10.2,"p":8.7},{"s":"10","f":14.6,"p":9.3},{"s":"10","f":18,"p":10.2},{"s":"10","f":24,"p":12.4},{"s":"10","f":34,"p":17.5},{"s":"10","f":49,"p":28},{"s":"10","f":70,"p":46},{"s":"10","f":100,"p":72},{"s":"10","f":124,"p":95},{"s":"10","f":138,"p":103},{"s":"10","f":155,"p":98},{"s":"10","f":178,"p":90},{"s":"10","f":220,"p":82},{"s":"10","f":272,"p":80},{"s":"10","f":400,"p":83},{"s":"10","f":1000,"p":83},
{"s":"50","f":1,"p":8.3},{"s":"50","f":2,"p":8.3},{"s":"50","f":3,"p":8.4},{"s":"50","f":4,"p":8.5},{"s":"50","f":5.8,"p":8.8},{"s":"50","f":8,"p":9},{"s":"50","f":10,"p":9.2},{"s":"50","f":12,"p":9.5},{"s":"50","f":15,"p":9.9},{"s":"50","f":20,"p":11},{"s":"50","f":24,"p":12.9},{"s":"50","f":34,"p":18},{"s":"50","f":49,"p":28.3},{"s":"50","f":70,"p":44.4},{"s":"50","f":100,"p":67},{"s":"50","f":124,"p":84},{"s":"50","f":149,"p":94},{"s":"50","f":178,"p":88},{"s":"50","f":220,"p":76},{"s":"50","f":272,"p":73},{"s":"50","f":365,"p":76.5},{"s":"50","f":520,"p":76},{"s":"50","f":1000,"p":76},
{"s":"200","f":1,"p":8},{"s":"200","f":2.8,"p":8},{"s":"200","f":4,"p":8.05},{"s":"200","f":5.8,"p":8.3},{"s":"200","f":8,"p":8.5},{"s":"200","f":10.2,"p":8.8},{"s":"200","f":12,"p":9.1},{"s":"200","f":14.6,"p":9.6},{"s":"200","f":18,"p":10.4},{"s":"200","f":24,"p":12.6},{"s":"200","f":34,"p":17.7},{"s":"200","f":49,"p":28},{"s":"200","f":70,"p":44.4},{"s":"200","f":100,"p":67.5},{"s":"200","f":124,"p":85},{"s":"200","f":149,"p":95.3},{"s":"200","f":178,"p":90},{"s":"200","f":220,"p":78.7},{"s":"200","f":272,"p":75},{"s":"200","f":365,"p":78.7},{"s":"200","f":520,"p":78},{"s":"200","f":1000,"p":78},
{"s":"rec","f":1,"p":8.1},{"s":"rec","f":2.8,"p":8.1},{"s":"rec","f":4,"p":8.2},{"s":"rec","f":5.8,"p":8.4},{"s":"rec","f":8,"p":8.6},{"s":"rec","f":10.2,"p":8.9},{"s":"rec","f":12,"p":9.2},{"s":"rec","f":14.6,"p":9.6},{"s":"rec","f":18,"p":10.4},{"s":"rec","f":24,"p":12.6},{"s":"rec","f":34,"p":17.7},{"s":"rec","f":49,"p":28},{"s":"rec","f":70,"p":44.4},{"s":"rec","f":100,"p":67.5},{"s":"rec","f":124,"p":85},{"s":"rec","f":149,"p":95.3},{"s":"rec","f":178,"p":90},{"s":"rec","f":220,"p":78.7},{"s":"rec","f":272,"p":74.5},{"s":"rec","f":365,"p":78.7},{"s":"rec","f":520,"p":78.3},{"s":"rec","f":1000,"p":78.3}],
"D2N":[{"f":100,"lo":68,"hi":76},{"f":130,"lo":96,"hi":106},{"f":200,"lo":82,"hi":90},{"f":300,"lo":79,"hi":87},{"f":1000,"lo":80,"hi":86}],
"D3":[
{"s":"10","f":1,"p":1.59},{"s":"10","f":1.49,"p":1.6},{"s":"10","f":2.49,"p":1.53},{"s":"10","f":2.98,"p":1.63},{"s":"10","f":4.43,"p":1.9},{"s":"10","f":6.12,"p":2.25},{"s":"10","f":7.9,"p":2.64},{"s":"10","f":9.6,"p":3.35},{"s":"10","f":13.2,"p":4.87},{"s":"10","f":18.2,"p":7.07},{"s":"10","f":25.1,"p":10.8},{"s":"10","f":34.6,"p":17.5},{"s":"10","f":47.7,"p":28.3},{"s":"10","f":65.8,"p":31.8},{"s":"10","f":90.6,"p":30.7},{"s":"10","f":500,"p":29.8},
{"s":"50","f":1,"p":2.1},{"s":"50","f":1.49,"p":2.02},{"s":"50","f":1.92,"p":2.2},{"s":"50","f":3.02,"p":2.28},{"s":"50","f":3.66,"p":2.57},{"s":"50","f":4.43,"p":2.55},{"s":"50","f":5.04,"p":3},{"s":"50","f":6.95,"p":3.6},{"s":"50","f":9.6,"p":4.6},{"s":"50","f":13.2,"p":6.7},{"s":"50","f":18.2,"p":9.7},{"s":"50","f":25.1,"p":14.9},{"s":"50","f":34.6,"p":21.6},{"s":"50","f":47.7,"p":31.4},{"s":"50","f":65.8,"p":36.5},{"s":"50","f":90.6,"p":35},{"s":"50","f":500,"p":35},
{"s":"200","f":1,"p":1.84},{"s":"200","f":1.92,"p":1.91},{"s":"200","f":3.02,"p":2.07},{"s":"200","f":4.43,"p":2.37},{"s":"200","f":6.12,"p":2.86},{"s":"200","f":9.6,"p":4.15},{"s":"200","f":13.2,"p":5.7},{"s":"200","f":18.2,"p":8.75},{"s":"200","f":25.1,"p":13.4},{"s":"200","f":34.6,"p":20.5},{"s":"200","f":47.7,"p":29.8},{"s":"200","f":65.8,"p":34},{"s":"200","f":90.6,"p":32.3},{"s":"200","f":500,"p":32.3},
{"s":"rec","f":1,"p":1.22},{"s":"rec","f":2,"p":1.25},{"s":"rec","f":3.9,"p":1.45},{"s":"rec","f":5.74,"p":1.77},{"s":"rec","f":7.9,"p":2.44},{"s":"rec","f":10.9,"p":3.94},{"s":"rec","f":16,"p":6.7},{"s":"rec","f":23.5,"p":12.1},{"s":"rec","f":32.4,"p":18.5},{"s":"rec","f":44.9,"p":27.5},{"s":"rec","f":61.9,"p":34},{"s":"rec","f":90,"p":33.5},{"s":"rec","f":500,"p":33.2}],
"D3N":[{"f":50,"lo":26,"hi":30},{"f":70,"lo":29.5,"hi":33},{"f":100,"lo":28,"hi":31.5},{"f":500,"lo":27.5,"hi":31.4}]
},
"vconcat":[
{"columns":3,"spacing":{"row":14,"column":45},"bounds":"flush","resolve":{"scale":{"color":"independent","fill":"independent","stroke":"independent","shape":"independent","strokeDash":"independent"}},"concat":[
  {"width":323,"height":240,"title":"g =3.5","layer":[
   {"data":{"name":"BA1"},"mark":{"type":"rect","stroke":"#707070","strokeWidth":1},"encoding":{"y":{"field":"lo","type":"quantitative","scale":{"domain":[0,240],"nice":false},"axis":{"values":[0,50,100,150,200],"title":"mean firing rate [Hz]","titlePadding":4}},"y2":{"field":"hi"},"color":{"field":"b","type":"nominal","scale":{"domain":["10","50","200"],"range":["#b3b3fa","#b3d8b3","#f8b3b3"]},"legend":null}}},
   {"data":{"values":[{"v":197.3}]},"mark":{"type":"rule","color":"black","strokeDash":[8,5],"strokeWidth":2.5},"encoding":{"y":{"field":"v","type":"quantitative"}}},
   {"data":{"name":"A1"},"mark":{"type":"line","strokeDash":[7,4],"strokeWidth":2,"clip":true},"encoding":{"x":{"field":"i","type":"quantitative","scale":{"domain":[0,20],"nice":false},"axis":{"values":[0,5,10,15,20],"labels":false,"title":null}},"y":{"field":"v","type":"quantitative"},"stroke":{"field":"s","type":"nominal","scale":{"domain":["10","50","200","rec"],"range":["#0000ff","#008000","#ff0000","#000000"]},"legend":{"orient":"bottom-right","title":null,"offset":4,"padding":5,"labelFontSize":18,"labelExpr":"datum.label=='rec' ? 'recurrent' : datum.label + ' neurons'","symbolSize":400,"symbolStrokeWidth":0.5,"symbolOffset":14,"labelOffset":26,"rowPadding":2,"encode":{"symbols":{"update":{"stroke":{"value":"black"},"strokeDash":{"value":[]},"shape":{"signal":"datum.value=='rec' ? 'M-1.4,-0.12H-0.55V0.12H-1.4Z M0.05,-0.12H0.9V0.12H0.05Z' : 'M-1.65,0A0.45,0.45,0,1,0,-0.75,0A0.45,0.45,0,1,0,-1.65,0Z M-0.7,-0.1H-0.25V0.1H-0.7Z M0.05,-0.1H0.75V0.1H0.05Z M0.75,0A0.45,0.45,0,1,0,1.65,0A0.45,0.45,0,1,0,0.75,0Z'"}}}}}}}},
   {"data":{"name":"A1"},"mark":{"type":"point","filled":true,"size":72,"stroke":"black","strokeWidth":0.6,"opacity":1,"clip":true},"encoding":{"x":{"field":"i","type":"quantitative"},"y":{"field":"v","type":"quantitative"},"fill":{"field":"s","type":"nominal","scale":{"domain":["10","50","200","rec"],"range":["#0000ff","#008000","#ff0000","#000000"]},"legend":{"orient":"bottom-right","title":null,"offset":4,"padding":5,"labelFontSize":18,"labelExpr":"datum.label=='rec' ? 'recurrent' : datum.label + ' neurons'","symbolSize":400,"symbolStrokeWidth":0.5,"symbolOffset":14,"labelOffset":26,"rowPadding":2,"encode":{"symbols":{"update":{"stroke":{"value":"black"},"strokeDash":{"value":[]},"shape":{"signal":"datum.value=='rec' ? 'M-1.4,-0.12H-0.55V0.12H-1.4Z M0.05,-0.12H0.9V0.12H0.05Z' : 'M-1.65,0A0.45,0.45,0,1,0,-0.75,0A0.45,0.45,0,1,0,-1.65,0Z M-0.7,-0.1H-0.25V0.1H-0.7Z M0.05,-0.1H0.75V0.1H0.05Z M0.75,0A0.45,0.45,0,1,0,1.65,0A0.45,0.45,0,1,0,0.75,0Z'"}}}}}}}},
   {"data":{"values":[{}]},"mark":{"type":"text","text":"(a)","fontSize":30,"align":"left","baseline":"alphabetic","color":"black"},"encoding":{"x":{"datum":-4.5,"type":"quantitative"},"y":{"datum":226,"type":"quantitative"}}}
  ]},
  {"width":323,"height":240,"title":"g =4","layer":[
   {"data":{"name":"BA2"},"mark":{"type":"rect","stroke":"#707070","strokeWidth":1},"encoding":{"y":{"field":"lo","type":"quantitative","scale":{"domain":[0,120],"nice":false},"axis":{"values":[0,20,40,60,80,100,120],"labelExpr":"datum.value%40==0 ? datum.label : ''","title":null}},"y2":{"field":"hi"},"color":{"field":"b","type":"nominal","scale":{"domain":["10","50","200"],"range":["#b3b3fa","#b3d8b3","#f8b3b3"]},"legend":null}}},
   {"data":{"values":[{"v":77.8}]},"mark":{"type":"rule","color":"black","strokeDash":[8,5],"strokeWidth":2.5},"encoding":{"y":{"field":"v","type":"quantitative"}}},
   {"data":{"name":"A2"},"mark":{"type":"line","strokeDash":[7,4],"strokeWidth":2,"clip":true},"encoding":{"x":{"field":"i","type":"quantitative","scale":{"domain":[0,20],"nice":false},"axis":{"values":[0,5,10,15,20],"labels":false,"title":null}},"y":{"field":"v","type":"quantitative"},"stroke":{"field":"s","type":"nominal","scale":{"domain":["10","50","200","rec"],"range":["#0000ff","#008000","#ff0000","#000000"]},"legend":null}}},
   {"data":{"name":"A2"},"mark":{"type":"point","filled":true,"size":72,"stroke":"black","strokeWidth":0.6,"opacity":1,"clip":true},"encoding":{"x":{"field":"i","type":"quantitative"},"y":{"field":"v","type":"quantitative"},"fill":{"field":"s","type":"nominal","scale":{"domain":["10","50","200","rec"],"range":["#0000ff","#008000","#ff0000","#000000"]},"legend":null}}},
   {"data":{"values":[{}]},"mark":{"type":"text","text":"(a)","fontSize":30,"align":"left","baseline":"alphabetic","opacity":0},"encoding":{"x":{"datum":1,"type":"quantitative"},"y":{"datum":113,"type":"quantitative"}}}
  ]},
  {"width":323,"height":240,"title":"g =6","layer":[
   {"data":{"name":"BA3"},"mark":{"type":"rect","stroke":"#707070","strokeWidth":1},"encoding":{"y":{"field":"lo","type":"quantitative","scale":{"domain":[0,30],"nice":false},"axis":{"values":[0,5,10,15,20,25,30],"labelExpr":"datum.value%10==0 ? datum.label : ''","title":null}},"y2":{"field":"hi"},"color":{"field":"b","type":"nominal","scale":{"domain":["10","50","200"],"range":["#b3b3fa","#b3d8b3","#f8b3b3"]},"legend":null}}},
   {"data":{"values":[{"v":16.2}]},"mark":{"type":"rule","color":"black","strokeDash":[8,5],"strokeWidth":2.5},"encoding":{"y":{"field":"v","type":"quantitative"}}},
   {"data":{"name":"A3"},"mark":{"type":"line","strokeDash":[7,4],"strokeWidth":2,"clip":true},"encoding":{"x":{"field":"i","type":"quantitative","scale":{"domain":[0,20],"nice":false},"axis":{"values":[0,5,10,15],"labels":false,"title":null}},"y":{"field":"v","type":"quantitative"},"stroke":{"field":"s","type":"nominal","scale":{"domain":["10","50","200","rec"],"range":["#0000ff","#008000","#ff0000","#000000"]},"legend":null}}},
   {"data":{"name":"A3"},"mark":{"type":"point","filled":true,"size":72,"stroke":"black","strokeWidth":0.6,"opacity":1,"clip":true},"encoding":{"x":{"field":"i","type":"quantitative"},"y":{"field":"v","type":"quantitative"},"fill":{"field":"s","type":"nominal","scale":{"domain":["10","50","200","rec"],"range":["#0000ff","#008000","#ff0000","#000000"]},"legend":null}}},
   {"data":{"values":[{}]},"mark":{"type":"text","text":"(a)","fontSize":30,"align":"left","baseline":"alphabetic","opacity":0},"encoding":{"x":{"datum":1,"type":"quantitative"},"y":{"datum":28.25,"type":"quantitative"}}}
  ]},
  {"width":323,"height":240,"layer":[
   {"data":{"values":[{"v":62.9}]},"mark":{"type":"rule","color":"black","strokeDash":[8,5],"strokeWidth":2.5},"encoding":{"y":{"field":"v","type":"quantitative","scale":{"domain":[0,100],"nice":false},"axis":{"values":[0,20,40,60,80,100],"labelExpr":"datum.value<100 ? datum.label : ''","title":"standard deviation [Hz]","titlePadding":4}}}},
   {"data":{"name":"B1"},"mark":{"type":"line","strokeDash":[7,4],"strokeWidth":2,"clip":true},"encoding":{"x":{"field":"i","type":"quantitative","scale":{"domain":[0,20],"nice":false},"axis":{"values":[0,5,10,15,20],"title":null}},"y":{"field":"v","type":"quantitative"},"stroke":{"field":"s","type":"nominal","scale":{"domain":["10","50","200","rec"],"range":["#0000ff","#008000","#ff0000","#000000"]},"legend":null}}},
   {"data":{"name":"B1"},"mark":{"type":"point","filled":true,"size":72,"stroke":"black","strokeWidth":0.6,"opacity":1,"clip":true},"encoding":{"x":{"field":"i","type":"quantitative"},"y":{"field":"v","type":"quantitative"},"fill":{"field":"s","type":"nominal","scale":{"domain":["10","50","200","rec"],"range":["#0000ff","#008000","#ff0000","#000000"]},"legend":null}}},
   {"data":{"values":[{}]},"mark":{"type":"text","text":"(b)","fontSize":30,"align":"left","baseline":"alphabetic","color":"#151560"},"encoding":{"x":{"datum":-4.5,"type":"quantitative"},"y":{"datum":93.3,"type":"quantitative"}}}
  ]},
  {"width":323,"height":240,"layer":[
   {"data":{"values":[{"v":50.9}]},"mark":{"type":"rule","color":"black","strokeDash":[8,5],"strokeWidth":2.5},"encoding":{"y":{"field":"v","type":"quantitative","scale":{"domain":[0,60],"nice":false},"axis":{"values":[0,10,20,30,40,50,60],"labelExpr":"(datum.value%20==0 && datum.value<60) ? datum.label : ''","title":null}}}},
   {"data":{"name":"B2"},"mark":{"type":"line","strokeDash":[7,4],"strokeWidth":2,"clip":true},"encoding":{"x":{"field":"i","type":"quantitative","scale":{"domain":[0,20],"nice":false},"axis":{"values":[0,5,10,15,20],"title":"iteration","titlePadding":0}},"y":{"field":"v","type":"quantitative"},"stroke":{"field":"s","type":"nominal","scale":{"domain":["10","50","200","rec"],"range":["#0000ff","#008000","#ff0000","#000000"]},"legend":null}}},
   {"data":{"name":"B2"},"mark":{"type":"point","filled":true,"size":72,"stroke":"black","strokeWidth":0.6,"opacity":1,"clip":true},"encoding":{"x":{"field":"i","type":"quantitative"},"y":{"field":"v","type":"quantitative"},"fill":{"field":"s","type":"nominal","scale":{"domain":["10","50","200","rec"],"range":["#0000ff","#008000","#ff0000","#000000"]},"legend":null}}}
  ]},
  {"width":323,"height":240,"layer":[
   {"data":{"values":[{"v":15.65}]},"mark":{"type":"rule","color":"black","strokeDash":[8,5],"strokeWidth":2.5},"encoding":{"y":{"field":"v","type":"quantitative","scale":{"domain":[0,25],"nice":false},"axis":{"values":[0,5,10,15,20,25],"labelExpr":"(datum.value%10==0 && datum.value<25) ? datum.label : ''","title":null}}}},
   {"data":{"name":"B3"},"mark":{"type":"line","strokeDash":[7,4],"strokeWidth":2,"clip":true},"encoding":{"x":{"field":"i","type":"quantitative","scale":{"domain":[0,20],"nice":false},"axis":{"values":[0,5,10,15],"title":null}},"y":{"field":"v","type":"quantitative"},"stroke":{"field":"s","type":"nominal","scale":{"domain":["10","50","200","rec"],"range":["#0000ff","#008000","#ff0000","#000000"]},"legend":null}}},
   {"data":{"name":"B3"},"mark":{"type":"point","filled":true,"size":72,"stroke":"black","strokeWidth":0.6,"opacity":1,"clip":true},"encoding":{"x":{"field":"i","type":"quantitative"},"y":{"field":"v","type":"quantitative"},"fill":{"field":"s","type":"nominal","scale":{"domain":["10","50","200","rec"],"range":["#0000ff","#008000","#ff0000","#000000"]},"legend":null}}}
  ]}
]},
{"columns":3,"spacing":{"row":15,"column":45},"bounds":"flush","resolve":{"scale":{"color":"independent","fill":"independent","stroke":"independent","shape":"independent","strokeDash":"independent"}},"concat":[
  {"width":323,"height":240,"layer":[
   {"data":{"name":"C1N"},"mark":{"type":"area","opacity":1,"clip":true},"encoding":{"x":{"field":"f","type":"quantitative","scale":{"type":"log","domain":[1,1500],"nice":false},"axis":{"values":[1,2,3,4,5,6,7,8,9,10,20,30,40,50,60,70,80,90,100,200,300,400,500,600,700,800,900,1000],"labels":false,"title":null,"tickSize":{"condition":{"test":"datum.value==1||datum.value==10||datum.value==100||datum.value==1000","value":-8},"value":-4}}},"y":{"field":"lo","type":"quantitative","scale":{"type":"log","domain":[5.4,1070],"nice":false},"axis":{"values":[6,7,8,9,10,20,30,40,50,60,70,80,90,100,200,300,400,500,600,700,800,900,1000],"labelExpr":"datum.value==10?'10¹':datum.value==100?'10²':datum.value==1000?'10³':''","tickSize":{"condition":{"test":"datum.value==10||datum.value==100||datum.value==1000","value":-8},"value":-4},"title":["averaged spike-train","power spectrum [1/s]"],"titlePadding":2}},"y2":{"field":"hi"},"fill":{"field":"s","type":"nominal","scale":{"domain":["b","g","r","m"],"range":["#0000ff","#008000","#ff0000","#bf00bf"]},"legend":{"orient":"none","legendX":5,"legendY":50,"title":null,"padding":5,"symbolType":"M-1.6,0H1.6","symbolSize":256,"symbolStrokeWidth":3,"symbolOffset":5,"labelFontSize":17,"rowPadding":1,"labelOffset":14,"labelExpr":"datum.label=='b'?'[79.5, 80.5] Hz':datum.label=='g'?'[139.5, 140.5] Hz':datum.label=='r'?'[199.5, 200.5] Hz':'[259.5, 260.5] Hz'"}}}},
   {"data":{"name":"C1L"},"mark":{"type":"line","strokeWidth":2,"clip":true},"encoding":{"x":{"field":"f","type":"quantitative"},"y":{"field":"p","type":"quantitative"},"stroke":{"field":"s","type":"nominal","scale":{"domain":["b","g","r","m"],"range":["#0000ff","#008000","#ff0000","#bf00bf"]},"legend":{"orient":"none","legendX":5,"legendY":50,"title":null,"padding":5,"symbolType":"M-1.6,0H1.6","symbolSize":256,"symbolStrokeWidth":3,"symbolOffset":5,"labelFontSize":17,"rowPadding":1,"labelOffset":14,"labelExpr":"datum.label=='b'?'[79.5, 80.5] Hz':datum.label=='g'?'[139.5, 140.5] Hz':datum.label=='r'?'[199.5, 200.5] Hz':'[259.5, 260.5] Hz'"}}}},
   {"data":{"name":"C1D"},"mark":{"type":"point","filled":true,"size":60,"stroke":"black","strokeWidth":0.7,"opacity":1,"clip":true},"encoding":{"x":{"field":"f","type":"quantitative"},"y":{"field":"p","type":"quantitative"},"fill":{"field":"s","type":"nominal","scale":{"domain":["b","g","r","m"],"range":["#0000ff","#008000","#ff0000","#bf00bf"]},"legend":{"orient":"none","legendX":5,"legendY":50,"title":null,"padding":5,"symbolType":"M-1.6,0H1.6","symbolSize":256,"symbolStrokeWidth":3,"symbolOffset":5,"labelFontSize":17,"rowPadding":1,"labelOffset":14,"labelExpr":"datum.label=='b'?'[79.5, 80.5] Hz':datum.label=='g'?'[139.5, 140.5] Hz':datum.label=='r'?'[199.5, 200.5] Hz':'[259.5, 260.5] Hz'"}},"shape":{"datum":"network simulation","type":"nominal","scale":{"domain":["iterative scheme","network simulation"],"range":["M-3,-0.22H3V0.22H-3Z","circle"]},"legend":{"orient":"none","legendX":5,"legendY":5,"title":null,"padding":4,"symbolSize":100,"symbolFillColor":"#808080","symbolStrokeColor":"#777777","symbolStrokeWidth":0.8,"labelFontSize":17,"symbolOffset":12,"labelOffset":22,"rowPadding":0,"encode":{"symbols":{"update":{"fill":{"value":"#808080"},"stroke":{"signal":"datum.value=='network simulation' ? 'black' : '#808080'"},"strokeWidth":{"value":1},"opacity":{"value":1}}}}}}}},
   {"data":{"values":[{}]},"mark":{"type":"text","text":"(c)","fontSize":30,"align":"left","baseline":"alphabetic","color":"black"},"encoding":{"x":{"datum":0.19,"type":"quantitative"},"y":{"datum":936,"type":"quantitative"}}}
  ]},
  {"width":323,"height":240,"layer":[
   {"data":{"name":"C2N"},"mark":{"type":"area","opacity":1,"clip":true},"encoding":{"x":{"field":"f","type":"quantitative","scale":{"type":"log","domain":[1,1000],"nice":false},"axis":{"values":[1,2,3,4,5,6,7,8,9,10,20,30,40,50,60,70,80,90,100,200,300,400,500,600,700,800,900,1000],"labels":false,"title":null,"tickSize":{"condition":{"test":"datum.value==1||datum.value==10||datum.value==100||datum.value==1000","value":-8},"value":-4}}},"y":{"field":"lo","type":"quantitative","scale":{"type":"log","domain":[5.7,465],"nice":false},"axis":{"values":[6,7,8,9,10,20,30,40,50,60,70,80,90,100,200,300,400],"labelExpr":"datum.value==10?'10¹':datum.value==100?'10²':''","tickSize":{"condition":{"test":"datum.value==10||datum.value==100","value":-8},"value":-4},"title":null}},"y2":{"field":"hi"},"fill":{"field":"s","type":"nominal","scale":{"domain":["b","g","r","m"],"range":["#0000ff","#008000","#ff0000","#bf00bf"]},"legend":{"orient":"top-left","title":null,"offset":5,"padding":5,"symbolType":"M-1.6,0H1.6","symbolSize":256,"symbolStrokeWidth":3,"symbolOffset":5,"labelFontSize":17,"rowPadding":1,"labelOffset":14,"labelExpr":"datum.label=='b'?'[19.5, 20.5] Hz':datum.label=='g'?'[69.5, 70.5] Hz':datum.label=='r'?'[119.5, 120.5] Hz':'[169.5, 170.5] Hz'"}}}},
   {"data":{"name":"C2L"},"mark":{"type":"line","strokeWidth":2,"clip":true},"encoding":{"x":{"field":"f","type":"quantitative"},"y":{"field":"p","type":"quantitative"},"stroke":{"field":"s","type":"nominal","scale":{"domain":["b","g","r","m"],"range":["#0000ff","#008000","#ff0000","#bf00bf"]},"legend":{"orient":"top-left","title":null,"offset":5,"padding":5,"symbolType":"M-1.6,0H1.6","symbolSize":256,"symbolStrokeWidth":3,"symbolOffset":5,"labelFontSize":17,"rowPadding":1,"labelOffset":14,"labelExpr":"datum.label=='b'?'[19.5, 20.5] Hz':datum.label=='g'?'[69.5, 70.5] Hz':datum.label=='r'?'[119.5, 120.5] Hz':'[169.5, 170.5] Hz'"}}}},
   {"data":{"name":"C2D"},"mark":{"type":"point","filled":true,"size":60,"stroke":"black","strokeWidth":0.7,"opacity":1,"clip":true},"encoding":{"x":{"field":"f","type":"quantitative"},"y":{"field":"p","type":"quantitative"},"fill":{"field":"s","type":"nominal","scale":{"domain":["b","g","r","m"],"range":["#0000ff","#008000","#ff0000","#bf00bf"]},"legend":{"orient":"top-left","title":null,"offset":5,"padding":5,"symbolType":"M-1.6,0H1.6","symbolSize":256,"symbolStrokeWidth":3,"symbolOffset":5,"labelFontSize":17,"rowPadding":1,"labelOffset":14,"labelExpr":"datum.label=='b'?'[19.5, 20.5] Hz':datum.label=='g'?'[69.5, 70.5] Hz':datum.label=='r'?'[119.5, 120.5] Hz':'[169.5, 170.5] Hz'"}}}}
  ]},
  {"width":323,"height":240,"layer":[
   {"data":{"name":"C3N"},"mark":{"type":"area","opacity":1,"clip":true},"encoding":{"x":{"field":"f","type":"quantitative","scale":{"type":"log","domain":[1,500],"nice":false},"axis":{"values":[1,2,3,4,5,6,7,8,9,10,20,30,40,50,60,70,80,90,100,200,300,400,500],"labels":false,"title":null,"tickSize":{"condition":{"test":"datum.value==1||datum.value==10||datum.value==100","value":-8},"value":-4}}},"y":{"field":"lo","type":"quantitative","scale":{"type":"log","domain":[3.8,79],"nice":false},"axis":{"values":[4,5,6,7,8,9,10,20,30,40,50,60,70],"labelExpr":"datum.value==10?'10¹':''","tickSize":{"condition":{"test":"datum.value==10","value":-8},"value":-4},"title":null}},"y2":{"field":"hi"},"fill":{"field":"s","type":"nominal","scale":{"domain":["b","g","r","m"],"range":["#0000ff","#008000","#ff0000","#bf00bf"]},"legend":{"orient":"top-left","title":null,"offset":5,"padding":5,"symbolType":"M-1.6,0H1.6","symbolSize":256,"symbolStrokeWidth":3,"symbolOffset":5,"labelFontSize":17,"rowPadding":1,"labelOffset":14,"labelExpr":"datum.label=='b'?'[4.5, 5.5] Hz':datum.label=='g'?'[19.5, 20.5] Hz':datum.label=='r'?'[34.5, 35.5] Hz':'[49.5, 50.5] Hz'"}}}},
   {"data":{"name":"C3L"},"mark":{"type":"line","strokeWidth":2,"clip":true},"encoding":{"x":{"field":"f","type":"quantitative"},"y":{"field":"p","type":"quantitative"},"stroke":{"field":"s","type":"nominal","scale":{"domain":["b","g","r","m"],"range":["#0000ff","#008000","#ff0000","#bf00bf"]},"legend":{"orient":"top-left","title":null,"offset":5,"padding":5,"symbolType":"M-1.6,0H1.6","symbolSize":256,"symbolStrokeWidth":3,"symbolOffset":5,"labelFontSize":17,"rowPadding":1,"labelOffset":14,"labelExpr":"datum.label=='b'?'[4.5, 5.5] Hz':datum.label=='g'?'[19.5, 20.5] Hz':datum.label=='r'?'[34.5, 35.5] Hz':'[49.5, 50.5] Hz'"}}}},
   {"data":{"name":"C3D"},"mark":{"type":"point","filled":true,"size":60,"stroke":"black","strokeWidth":0.7,"opacity":1,"clip":true},"encoding":{"x":{"field":"f","type":"quantitative"},"y":{"field":"p","type":"quantitative"},"fill":{"field":"s","type":"nominal","scale":{"domain":["b","g","r","m"],"range":["#0000ff","#008000","#ff0000","#bf00bf"]},"legend":{"orient":"top-left","title":null,"offset":5,"padding":5,"symbolType":"M-1.6,0H1.6","symbolSize":256,"symbolStrokeWidth":3,"symbolOffset":5,"labelFontSize":17,"rowPadding":1,"labelOffset":14,"labelExpr":"datum.label=='b'?'[4.5, 5.5] Hz':datum.label=='g'?'[19.5, 20.5] Hz':datum.label=='r'?'[34.5, 35.5] Hz':'[49.5, 50.5] Hz'"}}}}
  ]},
  {"width":323,"height":240,"layer":[
   {"data":{"name":"D1"},"mark":{"type":"line","strokeWidth":2,"clip":true},"encoding":{"x":{"field":"f","type":"quantitative","scale":{"type":"log","domain":[1,1500],"nice":false},"axis":{"values":[1,2,3,4,5,6,7,8,9,10,20,30,40,50,60,70,80,90,100,200,300,400,500,600,700,800,900,1000],"labelExpr":"datum.value==1?'10⁰':datum.value==10?'10¹':datum.value==100?'10²':datum.value==1000?'10³':''","title":null,"tickSize":{"condition":{"test":"datum.value==1||datum.value==10||datum.value==100||datum.value==1000","value":-8},"value":-4}}},"y":{"field":"p","type":"quantitative","scale":{"type":"log","domain":[9,480],"nice":false},"axis":{"values":[9,10,20,30,40,50,60,70,80,90,100,200,300,400],"labelExpr":"datum.value==10?'10¹':datum.value==100?'10²':''","tickSize":{"condition":{"test":"datum.value==10||datum.value==100","value":-8},"value":-4},"title":["population averaged","power spectrum [1/s]"],"titlePadding":2}},"stroke":{"field":"s","type":"nominal","scale":{"domain":["10","50","200","rec"],"range":["#0000ff","#008000","#ff0000","#000000"]},"legend":{"orient":"top-left","title":null,"offset":10,"padding":6,"symbolType":"M-1.5,0H1.5","symbolSize":400,"symbolStrokeWidth":2.5,"symbolOffset":6,"labelFontSize":18,"rowPadding":1,"labelOffset":20,"labelExpr":"datum.label=='rec' ? 'recurrent' : datum.label + ' neurons'"}},"strokeDash":{"field":"s","type":"nominal","scale":{"domain":["10","50","200","rec"],"range":[[1,0],[1,0],[1,0],[7,4]]},"legend":{"orient":"top-left","title":null,"offset":10,"padding":6,"symbolType":"M-1.5,0H1.5","symbolSize":400,"symbolStrokeWidth":2.5,"symbolOffset":6,"labelFontSize":18,"rowPadding":1,"labelOffset":20,"labelExpr":"datum.label=='rec' ? 'recurrent' : datum.label + ' neurons'"}}}},
   {"data":{"values":[{}]},"mark":{"type":"text","text":"(d)","fontSize":30,"align":"left","baseline":"alphabetic","color":"black"},"encoding":{"x":{"datum":0.19,"type":"quantitative"},"y":{"datum":386,"type":"quantitative"}}}
  ]},
  {"width":323,"height":240,"layer":[
   {"data":{"name":"D2N"},"mark":{"type":"area","color":"#0000ff","opacity":1,"clip":true},"encoding":{"x":{"field":"f","type":"quantitative","scale":{"type":"log","domain":[1,1000],"nice":false},"axis":{"values":[1,2,3,4,5,6,7,8,9,10,20,30,40,50,60,70,80,90,100,200,300,400,500,600,700,800,900,1000],"labelExpr":"datum.value==1?'10⁰':datum.value==10?'10¹':datum.value==100?'10²':datum.value==1000?'10³':''","title":"frequency [Hz]","titlePadding":0,"tickSize":{"condition":{"test":"datum.value==1||datum.value==10||datum.value==100||datum.value==1000","value":-8},"value":-4}}},"y":{"field":"lo","type":"quantitative","scale":{"type":"log","domain":[7.5,117],"nice":false},"axis":{"values":[8,9,10,20,30,40,50,60,70,80,90,100],"labelExpr":"datum.value==10?'10¹':datum.value==100?'10²':''","tickSize":{"condition":{"test":"datum.value==10||datum.value==100","value":-8},"value":-4},"title":null}},"y2":{"field":"hi"}}},
   {"data":{"name":"D2"},"mark":{"type":"line","strokeWidth":2,"clip":true},"encoding":{"x":{"field":"f","type":"quantitative"},"y":{"field":"p","type":"quantitative"},"stroke":{"field":"s","type":"nominal","scale":{"domain":["10","50","200","rec"],"range":["#0000ff","#008000","#ff0000","#000000"]},"legend":null},"strokeDash":{"field":"s","type":"nominal","scale":{"domain":["10","50","200","rec"],"range":[[1,0],[1,0],[1,0],[7,4]]},"legend":null}}}
  ]},
  {"width":323,"height":240,"layer":[
   {"data":{"name":"D3N"},"mark":{"type":"area","color":"#0000ff","opacity":1,"clip":true},"encoding":{"x":{"field":"f","type":"quantitative","scale":{"type":"log","domain":[1,500],"nice":false},"axis":{"values":[1,2,3,4,5,6,7,8,9,10,20,30,40,50,60,70,80,90,100,200,300,400,500],"labelExpr":"datum.value==1?'10⁰':datum.value==10?'10¹':datum.value==100?'10²':''","title":null,"tickSize":{"condition":{"test":"datum.value==1||datum.value==10||datum.value==100","value":-8},"value":-4}}},"y":{"field":"lo","type":"quantitative","scale":{"type":"log","domain":[1.12,52],"nice":false},"axis":{"values":[2,3,4,5,6,7,8,9,10,20,30,40,50],"labelExpr":"datum.value==10?'10¹':''","tickSize":{"condition":{"test":"datum.value==10","value":-8},"value":-4},"title":null}},"y2":{"field":"hi"}}},
   {"data":{"name":"D3"},"mark":{"type":"line","strokeWidth":2,"clip":true},"encoding":{"x":{"field":"f","type":"quantitative"},"y":{"field":"p","type":"quantitative"},"stroke":{"field":"s","type":"nominal","scale":{"domain":["10","50","200","rec"],"range":["#0000ff","#008000","#ff0000","#000000"]},"legend":null},"strokeDash":{"field":"s","type":"nominal","scale":{"domain":["10","50","200","rec"],"range":[[1,0],[1,0],[1,0],[7,4]]},"legend":null}}}
  ]}
]}
],
"spacing":-3,
"resolve":{"scale":{"color":"independent","fill":"independent","stroke":"independent","shape":"independent","strokeDash":"independent"}}
}
